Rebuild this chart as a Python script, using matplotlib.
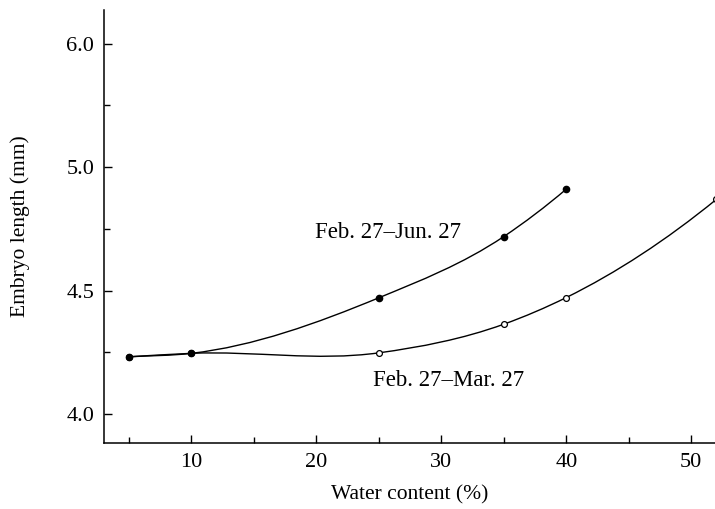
import numpy as np
import matplotlib
matplotlib.use("Agg")
import matplotlib.pyplot as plt
from matplotlib.path import Path
from matplotlib.patches import PathPatch

plt.rcParams['font.family'] = ['Liberation Serif', 'DejaVu Serif']

# values
jun_x = [5, 10, 25, 35, 40]
jun_y = [4.232, 4.246, 4.471, 4.719, 4.911]
mar_x = [5, 10, 25, 35, 40, 52]
mar_y = [4.232, 4.246, 4.248, 4.364, 4.472, 4.869]

ytick_pos = [4.0, 4.5, 5.0, 5.5]
ytick_lab = ['4.0', '4.5', '5.0', '6.0']   # the original axis prints 6.0 at this step
xtick_pos = [10, 20, 30, 40, 50]


def smooth_path(xs, ys):
    # hermite curve through the points (3-point slopes), as cubic bezier segments
    x = np.asarray(xs, float)
    y = np.asarray(ys, float)
    h = np.diff(x)
    d = np.diff(y) / h
    m = np.zeros_like(x)
    m[1:-1] = (d[:-1] * h[1:] + d[1:] * h[:-1]) / (h[:-1] + h[1:])
    m[0] = d[0]
    m[-1] = 2 * d[-1] - m[-2]
    verts = [(x[0], y[0])]
    codes = [Path.MOVETO]
    for i in range(len(x) - 1):
        verts += [(x[i] + h[i] / 3, y[i] + m[i] * h[i] / 3),
                  (x[i + 1] - h[i] / 3, y[i + 1] - m[i + 1] * h[i] / 3),
                  (x[i + 1], y[i + 1])]
        codes += [Path.CURVE4] * 3
    return Path(verts, codes)


fig = plt.figure(figsize=(7.15, 5.09), dpi=100)
ax = fig.add_axes([0.1455, 0.1297, 0.8545, 0.8506])

for xs, ys in [(jun_x, jun_y), (mar_x, mar_y)]:
    ax.add_patch(PathPatch(smooth_path(xs, ys), fill=False, lw=1.0, color='black'))

ax.plot(mar_x, mar_y, 'o', ms=4.2, mfc='white', mec='black', mew=0.9, zorder=3)
ax.plot(jun_x, jun_y, 'o', ms=4.5, mfc='black', mec='black', zorder=4)

# label positions in pixels (origin bottom-left)
ax.text(388, 509 - 232, 'Feb. 27\u2013Jun. 27', transform=None, fontsize=16.5,
        ha='center', va='center')
ax.text(449, 509 - 380, 'Feb. 27\u2013Mar. 27', transform=None, fontsize=16.5,
        ha='center', va='center')

ax.set_xlim(3.0, 51.9)
ax.set_ylim(3.883, 5.636)

ax.set_xticks(xtick_pos)
ax.set_xticks([5, 15, 25, 35, 45], minor=True)
ax.set_yticks(ytick_pos, labels=ytick_lab)
ax.set_yticks([4.25, 4.75, 5.25], minor=True)

ax.spines['top'].set_visible(False)
ax.spines['right'].set_visible(False)
for s in ['left', 'bottom']:
    ax.spines[s].set_linewidth(1.1)

ax.tick_params(which='major', direction='in', length=6, width=1, labelsize=16, pad=7)
ax.tick_params(which='minor', direction='in', length=4, width=1)

ax.set_xlabel('Water content (%)', fontsize=15.5, labelpad=10)
ax.set_ylabel('Embryo length (mm)', fontsize=15.5, labelpad=26)

fig.savefig('out.png', dpi=100)
